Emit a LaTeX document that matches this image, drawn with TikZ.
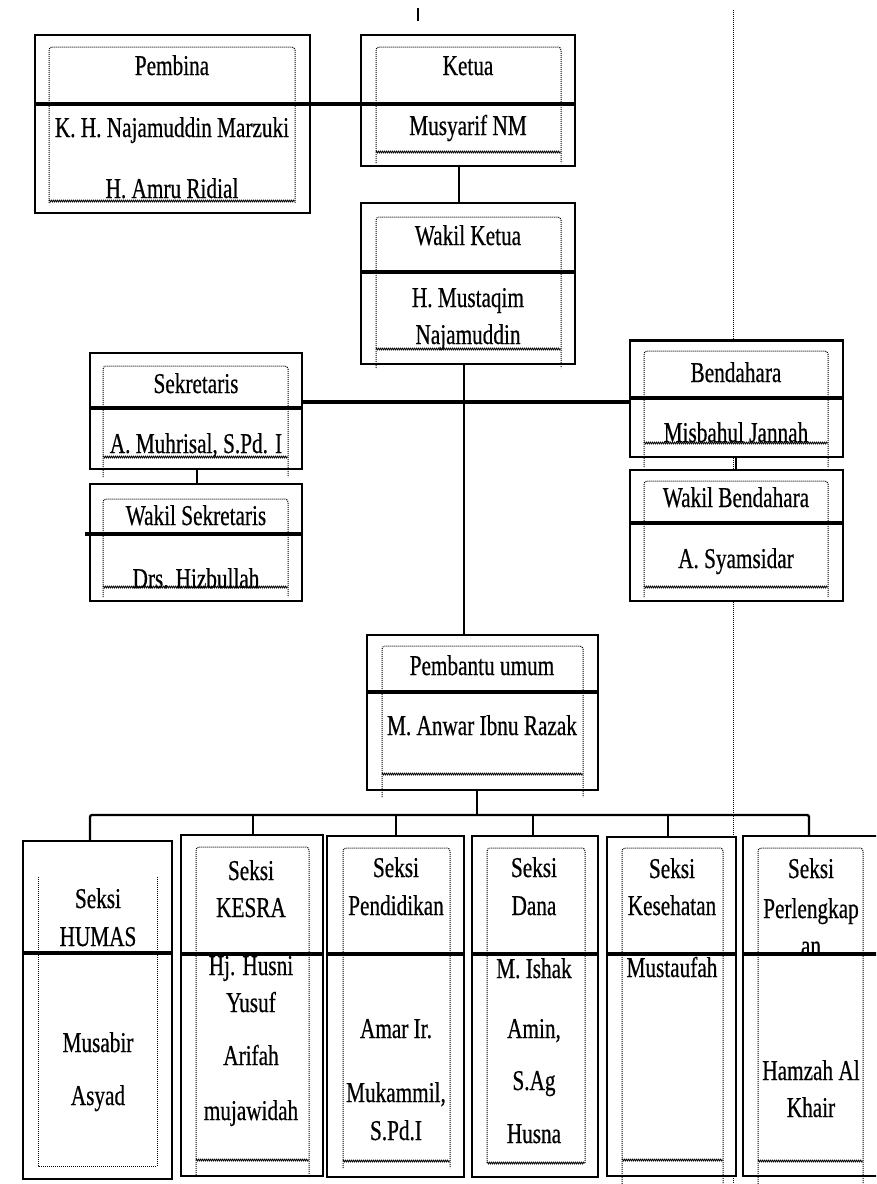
\documentclass[tikz,border=0pt]{standalone}
\usepackage{fontspec}
\setmainfont[FakeStretch=0.74,FakeBold=0.5]{Liberation Serif}
\usetikzlibrary{decorations.pathmorphing}
\begin{document}
\begin{tikzpicture}[x=1pt,y=-1pt,
  obox/.style={draw=black, fill=white, line width=1.8pt, inner sep=0pt, outer sep=0pt},
  divider/.style={line width=3.2pt, line cap=butt},
  conn/.style={line width=2.3pt},
  dotline/.style={line width=1pt, dash pattern=on 1pt off 1pt, draw=black},
  wavy/.style={line width=0.8pt, draw=black, decorate, decoration={snake, amplitude=0.9pt, segment length=2pt}},
  txt/.style={font=\fontsize{28.7pt}{34pt}\selectfont, anchor=base, inner sep=0pt}]
\clip (0,0) rectangle (876,1184);
\fill[white] (0,0) rectangle (876,1184);
\newcommand{\obx}[5]{\node[obox, minimum width={(#4-#2)*1pt}, minimum height={(#5-#3)*1pt}] (#1) at ({(#2+#4)/2},{(#3+#5)/2}) {};}
\newcommand{\inframe}[5]{\draw[dotline, rounded corners=3pt] (#1,#5) -- (#1,#2) -- (#3,#2) -- (#3,#5); \draw[wavy] (#1,#4) -- (#3,#4);}
\newcommand{\divd}[2]{\draw[divider] (#1.west |- 0,#2) -- (#1.east |- 0,#2);}
% long dotted guide line
\coordinate (gtop) at (733,10);
\coordinate (gbot) at (733,1184);
\draw[dotline] (gtop) -- (gbot);
% stray tick
\coordinate (tk1) at (418,8);
\coordinate (tk2) at (418,21);
\draw[line width=2.5pt] (tk1) -- (tk2);
% boxes
\obx{pembina}{35}{35}{310}{213}
\obx{ketua}{361}{35}{575}{166}
\obx{wakil}{361}{203}{575}{364}
\obx{sekr}{90}{353}{302}{469}
\obx{wsekr}{90}{484}{302}{601}
\obx{bend}{630}{340}{843}{457}
\obx{wbend}{630}{470}{843}{601}
\obx{pemb}{367}{635}{598}{790}
\obx{humas}{23}{841}{172}{1179}
\obx{kesra}{181}{835}{323}{1176}
\obx{pend}{327}{836}{464}{1177}
\obx{dana}{472}{836}{598}{1177}
\obx{kes}{607}{837}{736}{1176}
\obx{perl}{743}{836}{895}{1176}
\draw[line width=3pt] (bend.north west) -- (bend.north east);
% inner dotted frames
\inframe{49}{47}{295}{201}{203}
\inframe{376}{47}{561}{152}{163}
\inframe{376}{217}{561}{349}{368}
\inframe{103}{366}{288}{457}{477}
\inframe{103}{499}{288}{587}{597}
\inframe{644}{351}{828}{443}{467}
\inframe{644}{481}{828}{587}{597}
\inframe{382}{646}{583}{774}{797}
\draw[dotline] (38,877) -- (38,1166) -- (157,1166) -- (157,877);
\inframe{196}{847}{309}{1160}{1177}
\inframe{343}{848}{450}{1161}{1168}
\inframe{487}{848}{585}{1163}{1163}
\inframe{622}{848}{723}{1160}{1184}
\inframe{758}{848}{863}{1161}{1184}
% texts
\node[txt] (t01) at (172,75) {Pembina};
\node[txt] (t02) at (172,137) {K. H. Najamuddin Marzuki};
\node[txt] (t03) at (172,198) {H. Amru Ridial};
\node[txt] (t04) at (468,75) {Ketua};
\node[txt] (t05) at (468,135) {Musyarif NM};
\node[txt] (t06) at (468,245) {Wakil Ketua};
\node[txt] (t07) at (468,307) {H. Mustaqim};
\node[txt] (t08) at (468,344) {Najamuddin};
\node[txt] (t09) at (196,393) {Sekretaris};
\node[txt] (t10) at (196,453) {A. Muhrisal, S.Pd. I};
\node[txt] (t11) at (196,525) {Wakil Sekretaris};
\node[txt] (t12) at (196,588) {Drs. Hizbullah};
\node[txt] (t13) at (736,382) {Bendahara};
\node[txt] (t14) at (736,442) {Misbahul Jannah};
\node[txt] (t15) at (736,507) {Wakil Bendahara};
\node[txt] (t16) at (736,568) {A. Syamsidar};
\node[txt] (t17) at (482,675) {Pembantu umum};
\node[txt] (t18) at (482,735) {M. Anwar Ibnu Razak};
\node[txt] (t19) at (98,908) {Seksi};
\node[txt] (t20) at (98,946) {HUMAS};
\node[txt] (t21) at (98,1052) {Musabir};
\node[txt] (t22) at (98,1105) {Asyad};
\node[txt] (t23) at (251,880) {Seksi};
\node[txt] (t24) at (251,917) {KESRA};
\node[txt] (t25) at (251,975) {Hj. Husni};
\node[txt] (t26) at (251,1012) {Yusuf};
\node[txt] (t27) at (251,1065) {Arifah};
\node[txt] (t28) at (251,1120) {mujawidah};
\node[txt] (t29) at (396,877) {Seksi};
\node[txt] (t30) at (396,915) {Pendidikan};
\node[txt] (t31) at (396,1038) {Amar Ir.};
\node[txt] (t32) at (396,1102) {Mukammil,};
\node[txt] (t33) at (396,1140) {S.Pd.I};
\node[txt] (t34) at (534,877) {Seksi};
\node[txt] (t35) at (534,915) {Dana};
\node[txt] (t36) at (534,978) {M. Ishak};
\node[txt] (t37) at (534,1038) {Amin,};
\node[txt] (t38) at (534,1090) {S.Ag};
\node[txt] (t39) at (534,1143) {Husna};
\node[txt] (t40) at (672,878) {Seksi};
\node[txt] (t41) at (672,915) {Kesehatan};
\node[txt] (t42) at (672,977) {Mustaufah};
\node[txt] (t43) at (811,878) {Seksi};
\node[txt] (t44) at (811,918) {Perlengkap};
\node[txt] (t45) at (811,955) {an};
\node[txt] (t46) at (811,1080) {Hamzah Al};
\node[txt] (t47) at (811,1117) {Khair};
% dividers
\draw[divider] (pembina.west |- 0,104) -- (ketua.east |- 0,104);
\divd{wakil}{272}
\divd{sekr}{408}
\draw[divider] (85,534) -- (wsekr.east |- 0,534);
\divd{bend}{398}
\divd{wbend}{523}
\divd{pemb}{692}
\divd{humas}{953}
\divd{kesra}{954}
\divd{pend}{954}
\divd{dana}{954}
\divd{kes}{954}
\divd{perl}{954}
% connectors
\draw[conn] (ketua.south -| 459,0) -- (wakil.north -| 459,0);
\draw[conn] (wakil.south -| 464,0) -- (pemb.north -| 464,0);
\draw[divider] (sekr.east |- 0,402) -- (bend.west |- 0,402);
\draw[conn] (sekr.south -| 197,0) -- (wsekr.north -| 197,0);
\draw[conn] (bend.south -| 736,0) -- (wbend.north -| 736,0);
\coordinate (bus) at (477,815);
\draw[conn] (pemb.south -| bus) -- (bus);
\draw[conn, rounded corners=2pt] (humas.north -| 90,0) -- (90,815) -- (809,815) -- (perl.north -| 809,0);
\coordinate (b2) at (253,815);
\coordinate (b3) at (396,815);
\coordinate (b4) at (533,815);
\coordinate (b5) at (668,815);
\draw[conn] (b2) -- (kesra.north -| b2);
\draw[conn] (b3) -- (pend.north -| b3);
\draw[conn] (b4) -- (dana.north -| b4);
\draw[conn] (b5) -- (kes.north -| b5);
\end{tikzpicture}
\end{document}
